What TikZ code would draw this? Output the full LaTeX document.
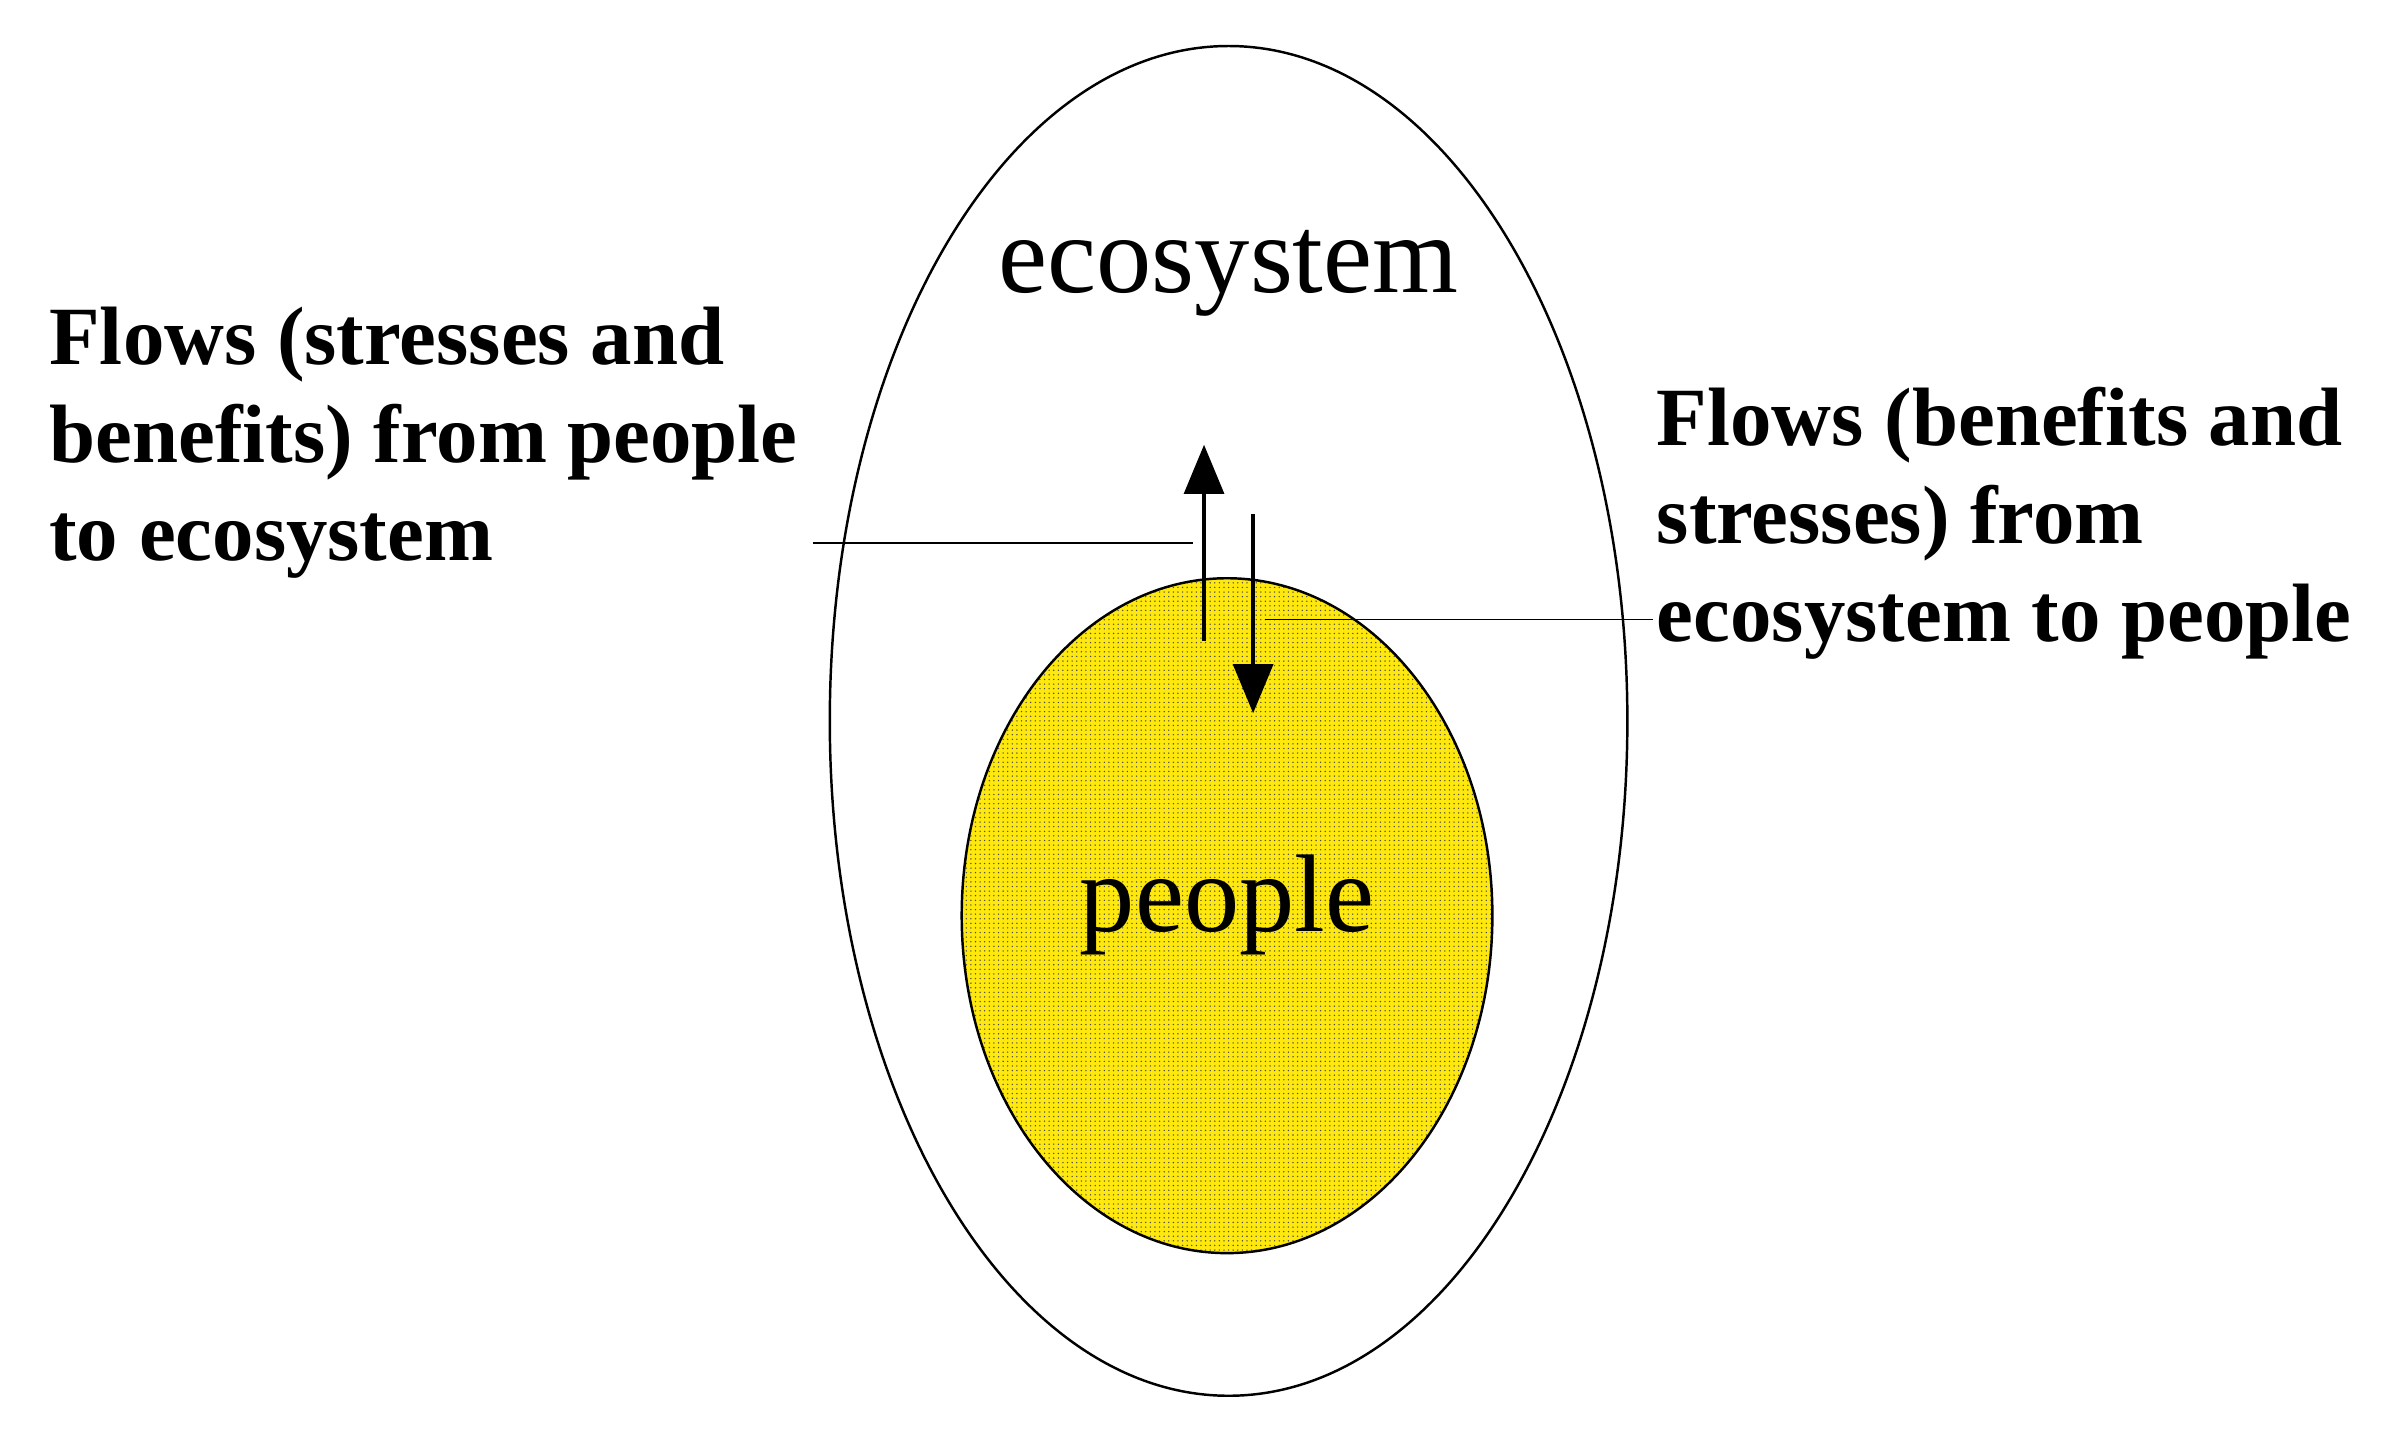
\documentclass[tikz,border=0pt]{standalone}
\usepackage{fontspec}
\setmainfont{Liberation Serif}
\usetikzlibrary{patterns,arrows.meta}
\begin{document}
\begin{tikzpicture}[x=1pt,y=-1pt,
  flow/.style={line width=2.2pt,-{Triangle[length=32pt,width=26pt]}},
  lead/.style={line width=1pt},
  lab/.style={font=\bfseries\fontsize{54}{64}\selectfont,align=left,anchor=north west,inner sep=0pt}]
\useasboundingbox (0,0) rectangle (1568,941);
\fill[white] (0,0) rectangle (1568,941);
\draw[line width=1.6pt] (801,470) ellipse [x radius=260,y radius=440];
\fill[yellow!90!orange!95!white] (800,597) ellipse [x radius=173,y radius=220];
\fill[pattern=dots,pattern color=black!70] (800,597) ellipse [x radius=173,y radius=220];
\draw[line width=1.6pt] (800,597) ellipse [x radius=173,y radius=220];
\node (eco) [font=\fontsize{72}{80}\selectfont] at (801,178) {ecosystem};
\node (ppl) [font=\fontsize{72}{80}\selectfont] at (800,590) {people};
\coordinate (ub) at (785,418); \coordinate (ut) at (785,290);
\coordinate (dt) at (817,335); \coordinate (db) at (817,465);
\draw[flow] (ub) -- (ut);
\draw[flow] (dt) -- (db);
\node (L) [lab] at (32,200) {Flows (stresses and\\benefits) from people\\to ecosystem};
\node (R) [lab] at (1080,252) {Flows (benefits and\\stresses) from\\ecosystem to people};
\coordinate (l1) at (530,354); \coordinate (l2) at (778,354);
\coordinate (r1) at (825,404); \coordinate (r2) at (1078,404);
\draw[lead] (l1) -- (l2);
\draw[lead] (r1) -- (r2);
\end{tikzpicture}
\end{document}
